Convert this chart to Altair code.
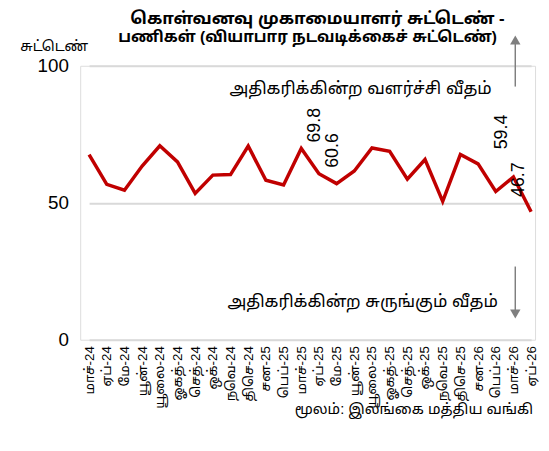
import altair as alt
import pandas as pd

months = ["மாச்-24", "ஏப்-24", "மே-24", "யூன்-24", "யூலை-24", "ஓகத்-24", "செத்-24",
          "ஒக்-24", "நவெ-24", "திசெ-24", "சன-25", "பெப்-25", "மாச்-25", "ஏப்-25",
          "மே-25", "யூன்-25", "யூலை-25", "ஓகத்-25", "செத்-25", "ஒக்-25", "நவெ-25",
          "திசெ-25", "சன-26", "பெப்-26", "மாச்-26", "ஏப்-26"]
values = [67.6, 56.7, 54.6, 63.4, 70.8, 64.9, 53.4, 60.1, 60.3, 70.7, 58.2, 56.5, 69.8,
          60.6, 57.0, 61.6, 70.0, 68.8, 58.6, 65.8, 50.5, 67.6, 64.2, 54.1, 59.4, 46.7]

label_months_a = ["மாச்-25", "ஏப்-25"]
label_values_a = [69.8, 60.6]
label_months_b = ["மாச்-26"]
label_values_b = [59.4]
label_months_c = ["ஏப்-26"]
label_values_c = [46.7]

title_line1 = "கொள்வனவு முகாமையாளர் சுட்டெண் -"
title_line2 = "பணிகள் (வியாபார நடவடிக்கைச் சுட்டெண்)"
y_title = "சுட்டெண்"
up_text = "அதிகரிக்கின்ற வளர்ச்சி வீதம்"
down_text = "அதிகரிக்கின்ற சுருங்கும் வீதம்"
source_text = "மூலம்: இலங்கை மத்திய வங்கி"

FONT = "Liberation Sans"
TFONT = "'Liberation Sans', 'Noto Sans Tamil', 'Noto Sans Tamil UI', 'Lohit Tamil', sans-serif"
df = pd.DataFrame({"month": months, "value": values})

x_enc = alt.X("month:N", sort=months,
              scale=alt.Scale(type="point", range=[9, 456], padding=0),
              axis=alt.Axis(title=None, labelAngle=270, labelAlign="right",
                            labelBaseline="middle", labelFontSize=13.5, labelColor="black",
                            labelFont=TFONT,
                            labelPadding=6, ticks=False, domain=False, grid=False))
y_enc = alt.Y("value:Q", scale=alt.Scale(domain=[0, 100], nice=False, zero=True),
              axis=alt.Axis(values=[0, 50, 100], title=y_title, titleAngle=0,
                            titleX=-61, titleY=-19, titleAlign="left",
                            titleBaseline="middle", titleFontSize=14.5, titleFont=TFONT,
                            titleFontWeight="normal", titleColor="black",
                            labelFontSize=19, labelColor="black", ticks=False,
                            domain=False, gridColor="#d9d9d9", gridWidth=2,
                            labelPadding=12))

line = alt.Chart(df).mark_line(color="#c00000", strokeWidth=3.5).encode(x=x_enc, y=y_enc)


def labels(ms, vs, dx, dy):
    d = pd.DataFrame({"month": ms, "value": vs})
    return alt.Chart(d).mark_text(angle=270, align="left", baseline="middle",
                                  fontSize=18, font=FONT, color="black",
                                  dx=dx, dy=dy).encode(
        x=alt.X("month:N", sort=months),
        y="value:Q",
        text=alt.Text("value:Q", format=".1f"))


lab_a = labels(label_months_a, label_values_a, 6, 14)
lab_b = labels(label_months_b, label_values_b, 28, -12)
lab_c = labels(label_months_c, label_values_c, 15, -12)

one = alt.Data(values=[{"a": 1}])
ARROW = "#7f7f7f"
up_rule = alt.Chart(one).mark_rule(color=ARROW, strokeWidth=1.5).encode(
    x=alt.value(440), y=alt.value(-22), y2=alt.value(21))
up_tri = alt.Chart(one).mark_point(shape="triangle-up", filled=True, size=110,
                                   color=ARROW, opacity=1).encode(
    x=alt.value(440), y=alt.value(-26))
down_rule = alt.Chart(one).mark_rule(color=ARROW, strokeWidth=1.5).encode(
    x=alt.value(440), y=alt.value(203), y2=alt.value(247))
down_tri = alt.Chart(one).mark_point(shape="triangle-down", filled=True, size=110,
                                     color=ARROW, opacity=1).encode(
    x=alt.value(440), y=alt.value(251))


def note(text, x, y, size, align="left", weight="normal"):
    return alt.Chart(one).mark_text(align=align, baseline="middle", fontSize=size,
                                    font=TFONT, color="black", fontWeight=weight).encode(
        x=alt.value(x), y=alt.value(y), text=alt.value(text))


up_lbl = note(up_text, 151, 24, 17)
down_lbl = note(down_text, 149, 239, 17)
src_lbl = note(source_text, 217, 348, 14.8)
t1 = note(title_line1, 240, -47, 17, align="center", weight="bold")
t2 = note(title_line2, 230, -29, 15.5, align="center", weight="bold")

chart = alt.layer(line, lab_a, lab_b, lab_c, up_rule, up_tri, down_rule, down_tri,
                  up_lbl, down_lbl, src_lbl, t1, t2).properties(
    width=460, height=277,
    autosize=alt.AutoSizeParams(type="none"),
    padding={"left": 73, "top": 56, "right": 6, "bottom": 102},
).configure_view(stroke=None).configure(font=FONT)

chart.save("out.html", embed_options={"renderer": "svg", "actions": False})
